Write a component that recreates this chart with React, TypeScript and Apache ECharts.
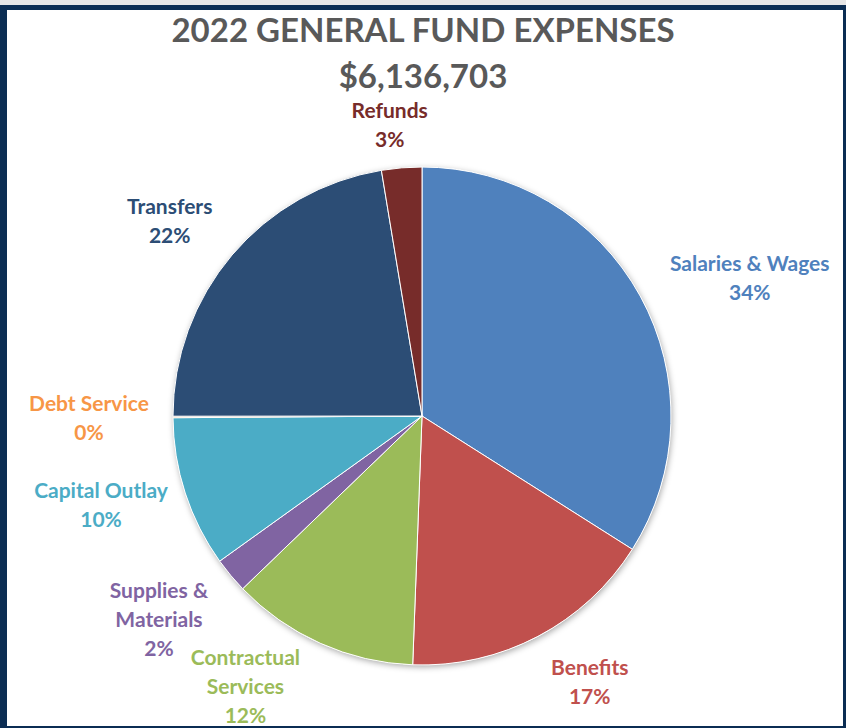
import React, { useEffect, useRef } from "react";
import * as echarts from "echarts";

// ---- data ----
const TITLE = "2022 GENERAL FUND EXPENSES";
const TOTAL_LABEL = "$6,136,703";
const categories = [
  "Salaries & Wages",
  "Benefits",
  "Contractual\nServices",
  "Supplies &\nMaterials",
  "Capital Outlay",
  "Debt Service",
  "Transfers",
  "Refunds",
];
const amounts = [2086000, 1019000, 749000, 141000, 601000, 6000, 1375000, 160000];
const sliceColors = [
  "#4F81BD",
  "#C0504D",
  "#9BBB59",
  "#8064A2",
  "#4BACC6",
  "#F79646",
  "#2C4D75",
  "#772C2A",
];

// ---- layout settings ----
const CX = 422;
const CY = 416;
const R = 249;
const LABEL_GAP = 16;
const LABEL_NUDGE: number[][] = [
  [22, 29],
  [24, -8],
  [-43, -29],
  [-9, -9],
  [0, -16],
  [-8, 0],
  [-11, 9],
  [-8, 4],
];
const FONT = "Lato, 'Open Sans', sans-serif";

const titleStyle = {
  fontFamily: FONT,
  fontWeight: "bold",
  fontSize: 33,
  lineHeight: 40,
  color: "#595959",
};

export default function App() {
  const ref = useRef<HTMLDivElement>(null);

  useEffect(() => {
    if (!ref.current) return;
    const chart = echarts.init(ref.current, undefined, { renderer: "svg" });
    const total = amounts.reduce((a, b) => a + b, 0);

    chart.setOption({
      animation: false,
      title: [
        { text: TITLE, left: "center", top: 9, padding: 0, textStyle: titleStyle },
        { text: TOTAL_LABEL, left: "center", top: 55, padding: 0, textStyle: titleStyle },
      ],
      graphic: [
        {
          type: "circle",
          z: 0,
          shape: { cx: CX, cy: CY, r: R },
          style: {
            fill: "#ffffff",
            shadowBlur: 6,
            shadowOffsetX: 1,
            shadowOffsetY: 2,
            shadowColor: "rgba(0,0,0,0.35)",
          },
          silent: true,
        },
      ],
      series: [
        {
          type: "pie",
          z: 5,
          center: [CX, CY],
          radius: R,
          startAngle: 90,
          clockwise: true,
          avoidLabelOverlap: false,
          itemStyle: { borderColor: "#ffffff", borderWidth: 1 },
          label: {
            show: true,
            position: "outside",
            color: "inherit",
            fontFamily: FONT,
            fontWeight: "bold",
            fontSize: 21,
            lineHeight: 29,
            formatter: (p: any) =>
              p.name + "\n" + Math.round((p.value / total) * 100) + "%",
          },
          labelLine: { show: false, length: 0, length2: 0 },
          labelLayout: (params: any) => {
            const i = params.dataIndex;
            let before = 0;
            for (let j = 0; j < i; j++) before += amounts[j];
            const mid = ((before + amounts[i] / 2) / total) * Math.PI * 2;
            const ux = Math.sin(mid);
            const uy = -Math.cos(mid);
            const w = params.labelRect.width;
            const h = params.labelRect.height;
            const half = (Math.abs(ux) * w) / 2 + (Math.abs(uy) * h) / 2;
            const d = R + LABEL_GAP + half;
            const n = LABEL_NUDGE[i] || [0, 0];
            return {
              x: CX + ux * d + n[0],
              y: CY + uy * d + n[1],
              align: "center",
              verticalAlign: "middle",
              hideOverlap: false,
            };
          },
          emphasis: { disabled: true },
          data: categories.map((name, i) => ({
            name,
            value: amounts[i],
            itemStyle: { color: sliceColors[i] },
          })),
        },
      ],
    });

    return () => chart.dispose();
  }, []);

  return (
    <div
      style={{
        position: "fixed",
        left: 0,
        top: 0,
        width: 846,
        height: 728,
        background: "#0B2D53",
        overflow: "hidden",
      }}
    >
      <div
        style={{
          position: "absolute",
          left: 0,
          top: 0,
          width: 846,
          height: 5,
          background: "#E6E6E6",
        }}
      />
      <div
        style={{
          position: "absolute",
          left: 7,
          top: 10,
          width: 836,
          height: 716,
          background: "#FFFFFF",
        }}
      />
      <div
        ref={ref}
        style={{ position: "absolute", left: 0, top: 0, width: 846, height: 728 }}
      />
    </div>
  );
}
